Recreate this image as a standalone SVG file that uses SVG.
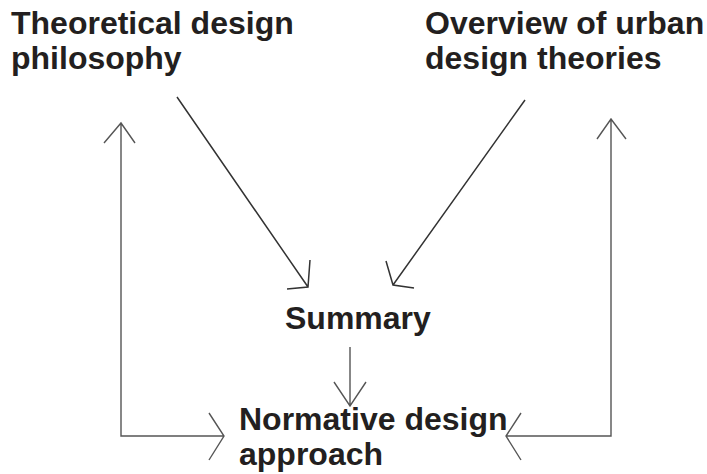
<svg xmlns="http://www.w3.org/2000/svg" width="707" height="474" viewBox="0 0 707 474">
<style>
text{font-family:"Liberation Sans",Arial,sans-serif;font-weight:bold;font-size:32px;fill:#231f20}
.ln{fill:none;stroke:#555;stroke-width:1.4}
.dk{fill:none;stroke:#333;stroke-width:1.5}
</style>
<rect width="707" height="474" fill="#fff"/>
<g id="theoretical"><text x="11" y="34">Theoretical design</text><text x="11" y="69">philosophy</text></g>
<g id="overview"><text x="425" y="34">Overview of urban</text><text x="425" y="69">design theories</text></g>
<g id="summary"><text x="285" y="329">Summary</text></g>
<g id="normative"><text x="239" y="430">Normative design</text><text x="239" y="465">approach</text></g>
<g id="connectors">
<path class="dk" d="M177,97 L308,287 M310,260 L308,287 L287,289"/>
<path class="dk" d="M525,100 L393,285 M386,261 L393,285 L414,288"/>
<path class="ln" d="M350,347 L350,406 M334,382 L350,406 L366,382"/>
<path class="ln" d="M121,123 L121,436 L224,436 M104,143 L121,123 L135,143 M209,413 L224,436 L209,460"/>
<path class="ln" d="M611,119 L611,436 L506,436 M597,139 L611,119 L626,139 M521,413 L506,436 L521,460"/>
</g>
</svg>
